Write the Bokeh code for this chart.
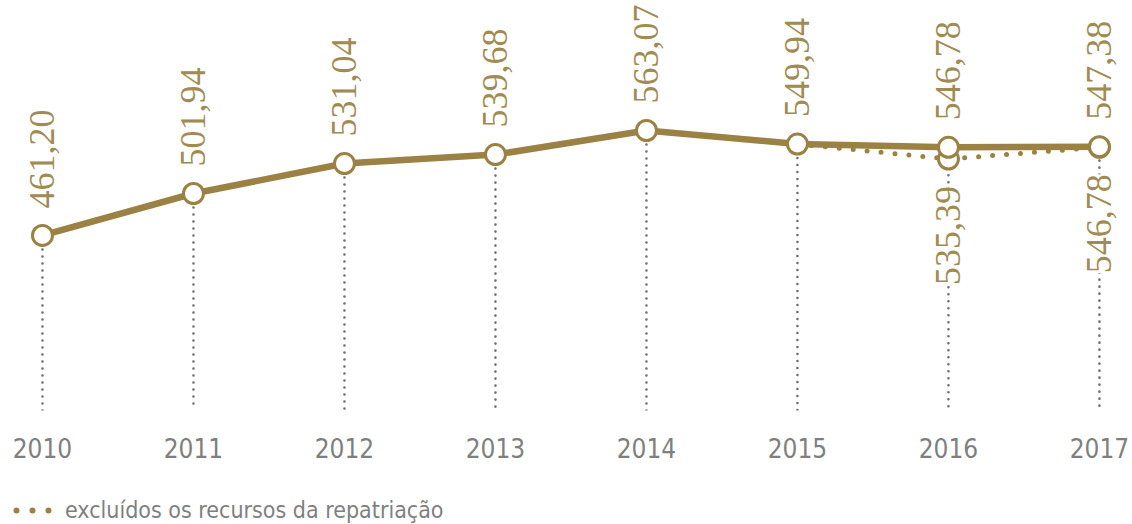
import math
import subprocess
from bokeh.plotting import figure
from bokeh.layouts import column
from bokeh.models import (ColumnDataSource, Range1d, FixedTicker, LabelSet,
                          Legend, LegendItem)
from bokeh.embed import file_html
from bokeh.resources import INLINE

# ---- data ----
years = [2010, 2011, 2012, 2013, 2014, 2015, 2016, 2017]
values = [461.20, 501.94, 531.04, 539.68, 563.07, 549.94, 546.78, 547.38]
repat_years = [2015, 2016, 2017]
repat_values = [549.94, 535.39, 546.78]
year_labels = [str(y) for y in years]
legend_text = "excluídos os recursos da repatriação"

GOLD = "#9b8244"
GOLD_TXT = "#a08b52"
GREY = "#7f7f7f"
DROP = "#6e6e6e"
NUM_FONT = "Open Sans"

try:
    fams = subprocess.run(["fc-list", ":", "family"], capture_output=True,
                          text=True, timeout=20).stdout
except Exception:
    fams = ""
if "Liberation Sans Narrow" in fams:
    NARROW = "Liberation Sans Narrow"
elif "DejaVu Sans Condensed" in fams:
    NARROW = "DejaVu Sans Condensed"
else:
    NARROW = "Lato"

def fmt(v):
    return f"{v:.2f}".replace(".", ",")

baseline = 291.4

main_src = ColumnDataSource(dict(
    x=years, y=values, lab=[fmt(v) for v in values],
    y0=[baseline] * len(years)))
rep_src = ColumnDataSource(dict(x=repat_years, y=repat_values))
rep_lab_src = ColumnDataSource(dict(
    x=repat_years[1:], y=repat_values[1:],
    lab=[fmt(v) for v in repat_values[1:]]))

p = figure(width=1132, height=478, output_backend="svg", toolbar_location=None,
           x_range=Range1d(2009.722, 2017.219), y_range=Range1d(baseline, 689.2),
           y_axis_location=None, min_border_left=0, min_border_right=0,
           min_border_top=0, min_border_bottom=68)
p.outline_line_color = None
p.grid.visible = False

# drop lines
p.segment(x0="x", y0="y", x1="x", y1="y0", source=main_src, line_color=DROP,
          line_width=2.6, line_dash="0 7", line_cap="round")

# repatriation-excluded dotted series
p.line("x", "y", source=rep_src, line_color=GOLD, line_width=5,
       line_dash="0 14", line_cap="round")
p.scatter("x", "y", source=rep_lab_src, size=20, fill_color="white",
          line_color=GOLD, line_width=3)

# main series
p.line("x", "y", source=main_src, line_color=GOLD, line_width=6.5)
p.scatter("x", "y", source=main_src, size=20, fill_color="white",
          line_color=GOLD, line_width=3)

# value labels
pad_kw = {"padding": 12} if "padding" in LabelSet.properties() else {}
above = LabelSet(x="x", y="y", text="lab", source=main_src, angle=math.pi / 2,
                 text_align="left", text_baseline="middle", y_offset=27,
                 text_font=NUM_FONT, text_font_size="36px", text_color=GOLD_TXT)
below = LabelSet(x="x", y="y", text="lab", source=rep_lab_src, angle=math.pi / 2,
                 text_align="right", text_baseline="middle", y_offset=-27,
                 text_font=NUM_FONT, text_font_size="36px", text_color=GOLD_TXT,
                 background_fill_color="white", **pad_kw)
p.add_layout(above)
p.add_layout(below)

# x axis
p.xaxis.ticker = FixedTicker(ticks=years)
p.xaxis.major_label_overrides = {y: s for y, s in zip(years, year_labels)}
p.xaxis.axis_line_color = None
p.xaxis.major_tick_line_color = None
p.xaxis.minor_tick_line_color = None
p.xaxis.major_label_standoff = 21
p.xaxis.major_label_text_font = NARROW
p.xaxis.major_label_text_font_size = "26px"
p.xaxis.major_label_text_color = GREY

# legend in its own strip below the chart (its line lies outside this strip's view)
lf = figure(width=1132, height=46, output_backend="svg", toolbar_location=None,
            x_range=Range1d(0, 1), y_range=Range1d(0, 1),
            x_axis_location=None, y_axis_location=None,
            min_border_left=0, min_border_right=0, min_border_top=0,
            min_border_bottom=0)
lf.outline_line_color = None
lf.grid.visible = False
leg_line = lf.line(repat_years, repat_values, line_color=GOLD, line_width=6,
                   line_dash="0 16", line_dash_offset=12, line_cap="round")
legend = Legend(items=[LegendItem(label=legend_text, renderers=[leg_line])],
                location=(12, 1), orientation="horizontal",
                glyph_width=40, glyph_height=20, label_standoff=13,
                padding=0, margin=0, spacing=0,
                label_text_font=NARROW, label_text_font_size="23px",
                label_text_color=GREY, background_fill_alpha=0,
                border_line_color=None)
lf.add_layout(legend)

layout = column(p, lf, spacing=0)
open("out.html", "w").write(file_html(layout, INLINE))
